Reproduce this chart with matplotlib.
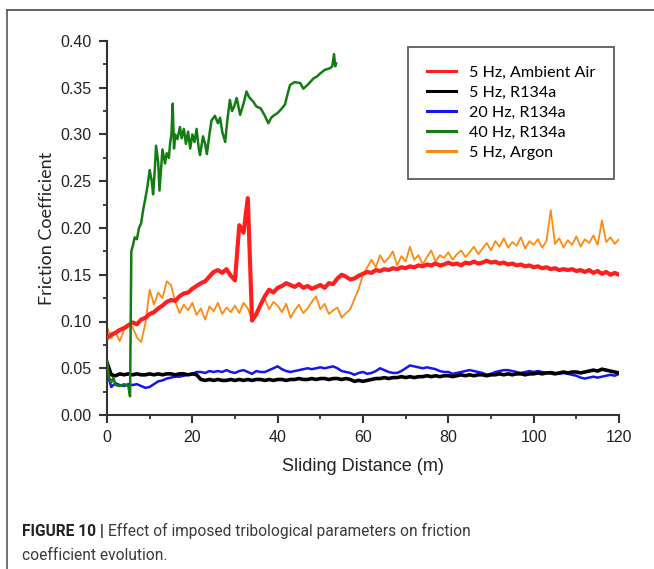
import numpy as np
import matplotlib
matplotlib.use("Agg")
import matplotlib.pyplot as plt
from matplotlib.lines import Line2D
from matplotlib.ticker import MultipleLocator

# Sliding distance grid (m) shared by the 120 m runs
dist = np.arange(0, 121)

# 5 Hz, Ambient Air
air_5hz = [0.082, 0.086, 0.088, 0.091, 0.093, 0.096, 0.099, 0.097, 0.102, 0.104,
           0.108, 0.110, 0.114, 0.117, 0.121, 0.123, 0.122, 0.127, 0.130, 0.131,
           0.135, 0.138, 0.141, 0.143, 0.148, 0.153, 0.155, 0.152, 0.156, 0.149,
           0.144, 0.203, 0.195, 0.232, 0.101, 0.108, 0.118, 0.127, 0.134, 0.131,
           0.136, 0.138, 0.141, 0.139, 0.137, 0.140, 0.136, 0.138, 0.135, 0.137,
           0.139, 0.136, 0.141, 0.140, 0.146, 0.150, 0.148, 0.145, 0.146, 0.149,
           0.151, 0.153, 0.152, 0.155, 0.154, 0.156, 0.155, 0.157, 0.156, 0.158,
           0.157, 0.159, 0.158, 0.160, 0.159, 0.161, 0.160, 0.162, 0.160, 0.161,
           0.163, 0.161, 0.162, 0.160, 0.163, 0.162, 0.164, 0.162, 0.163, 0.165,
           0.163, 0.164, 0.162, 0.163, 0.161, 0.162, 0.160, 0.161, 0.159, 0.160,
           0.158, 0.159, 0.157, 0.158, 0.156, 0.157, 0.155, 0.156, 0.155, 0.156,
           0.154, 0.155, 0.153, 0.155, 0.152, 0.154, 0.151, 0.153, 0.150, 0.152,
           0.150]

# 5 Hz, R134a
r134a_5hz = [0.056, 0.043, 0.042, 0.044, 0.043, 0.044, 0.043, 0.044, 0.043, 0.043,
             0.044, 0.043, 0.044, 0.043, 0.044, 0.044, 0.043, 0.044, 0.044, 0.043,
             0.044, 0.043, 0.038, 0.037, 0.038, 0.037, 0.038, 0.037, 0.037, 0.038,
             0.037, 0.038, 0.037, 0.038, 0.037, 0.038, 0.038, 0.037, 0.038, 0.037,
             0.038, 0.038, 0.037, 0.038, 0.038, 0.039, 0.038, 0.038, 0.039, 0.038,
             0.039, 0.039, 0.038, 0.039, 0.039, 0.038, 0.039, 0.038, 0.036, 0.037,
             0.036, 0.037, 0.038, 0.039, 0.039, 0.040, 0.039, 0.040, 0.040, 0.041,
             0.040, 0.041, 0.040, 0.041, 0.041, 0.042, 0.041, 0.042, 0.041, 0.042,
             0.042, 0.041, 0.042, 0.043, 0.042, 0.043, 0.042, 0.043, 0.043, 0.042,
             0.043, 0.043, 0.044, 0.043, 0.044, 0.043, 0.044, 0.044, 0.043, 0.044,
             0.044, 0.045, 0.044, 0.045, 0.045, 0.044, 0.045, 0.046, 0.045, 0.046,
             0.046, 0.045, 0.046, 0.047, 0.048, 0.047, 0.049, 0.048, 0.047, 0.046,
             0.045]

# 20 Hz, R134a
r134a_20hz = [0.046, 0.030, 0.034, 0.032, 0.031, 0.033, 0.032, 0.033, 0.031, 0.029,
              0.030, 0.033, 0.036, 0.037, 0.039, 0.040, 0.041, 0.041, 0.042, 0.043,
              0.044, 0.046, 0.046, 0.045, 0.047, 0.046, 0.047, 0.046, 0.048, 0.046,
              0.045, 0.047, 0.048, 0.046, 0.044, 0.047, 0.046, 0.046, 0.048, 0.050,
              0.052, 0.049, 0.047, 0.046, 0.047, 0.048, 0.049, 0.050, 0.049, 0.050,
              0.051, 0.050, 0.051, 0.052, 0.050, 0.047, 0.046, 0.045, 0.043, 0.045,
              0.046, 0.044, 0.045, 0.047, 0.050, 0.048, 0.046, 0.045, 0.045, 0.047,
              0.050, 0.053, 0.052, 0.051, 0.050, 0.051, 0.050, 0.049, 0.047, 0.046,
              0.046, 0.044, 0.045, 0.046, 0.047, 0.048, 0.047, 0.046, 0.045, 0.043,
              0.044, 0.046, 0.047, 0.048, 0.048, 0.047, 0.046, 0.045, 0.046, 0.047,
              0.046, 0.047, 0.046, 0.045, 0.046, 0.045, 0.044, 0.045, 0.044, 0.043,
              0.042, 0.040, 0.039, 0.040, 0.041, 0.040, 0.041, 0.042, 0.043, 0.042,
              0.044]

# 40 Hz, R134a (run stops at ~54 m)
dist_40hz = [0, 0.5, 1, 1.5, 2, 3, 4, 5, 5.4, 5.7,
             6, 6.5, 7, 7.5, 8, 8.5, 9, 9.5, 10, 10.5,
             10.8, 11.2, 11.5, 12, 12.3, 12.7, 13, 13.6, 14, 14.5,
             14.8, 15.1, 15.4, 15.7, 16, 16.5, 17.1, 17.5, 18, 18.5,
             19, 19.5, 20, 20.5, 21, 21.5, 21.8, 22.5, 23, 23.4,
             24, 24.5, 25.3, 26, 26.5, 27, 27.7, 28.2, 28.8, 29.3,
             29.8, 30.4, 31.2, 32, 32.7, 33.3, 34.3, 35, 36, 37,
             37.8, 38.5, 39, 40, 41, 41.7, 42.3, 42.9, 44, 45.3,
             46, 47, 48.4, 49.2, 49.9, 51, 52.3, 52.8, 53.2, 53.5,
             53.7]
r134a_40hz = [0.058, 0.040, 0.035, 0.040, 0.032, 0.031, 0.033, 0.031, 0.020, 0.175,
              0.180, 0.190, 0.188, 0.200, 0.205, 0.220, 0.232, 0.245, 0.262, 0.250,
              0.236, 0.262, 0.288, 0.270, 0.240, 0.265, 0.284, 0.269, 0.280, 0.275,
              0.291, 0.300, 0.333, 0.285, 0.300, 0.295, 0.308, 0.296, 0.306, 0.290,
              0.303, 0.285, 0.300, 0.292, 0.306, 0.285, 0.278, 0.298, 0.290, 0.279,
              0.300, 0.315, 0.320, 0.312, 0.318, 0.303, 0.292, 0.315, 0.337, 0.325,
              0.330, 0.339, 0.321, 0.333, 0.346, 0.340, 0.335, 0.330, 0.328, 0.320,
              0.312, 0.318, 0.320, 0.323, 0.328, 0.332, 0.343, 0.353, 0.356, 0.355,
              0.349, 0.353, 0.360, 0.362, 0.365, 0.369, 0.371, 0.373, 0.386, 0.373,
              0.376]

# 5 Hz, Argon
argon_5hz = [0.094, 0.082, 0.088, 0.079, 0.091, 0.097, 0.094, 0.083, 0.078, 0.098,
             0.134, 0.118, 0.131, 0.125, 0.143, 0.139, 0.121, 0.109, 0.118, 0.112,
             0.120, 0.107, 0.114, 0.102, 0.116, 0.111, 0.120, 0.108, 0.115, 0.110,
             0.117, 0.109, 0.120, 0.114, 0.102, 0.110, 0.118, 0.124, 0.113, 0.121,
             0.117, 0.110, 0.119, 0.104, 0.112, 0.118, 0.109, 0.114, 0.121, 0.127,
             0.113, 0.119, 0.108, 0.112, 0.115, 0.104, 0.109, 0.113, 0.124, 0.135,
             0.150, 0.158, 0.166, 0.158, 0.171, 0.163, 0.168, 0.175, 0.160, 0.170,
             0.164, 0.180, 0.166, 0.171, 0.161, 0.169, 0.176, 0.164, 0.171, 0.168,
             0.174, 0.166, 0.172, 0.176, 0.169, 0.174, 0.180, 0.172, 0.178, 0.184,
             0.176, 0.186, 0.180, 0.189, 0.179, 0.185, 0.181, 0.190, 0.178, 0.186,
             0.182, 0.188, 0.179, 0.186, 0.219, 0.183, 0.189, 0.179, 0.187, 0.182,
             0.191, 0.180, 0.188, 0.184, 0.192, 0.182, 0.208, 0.185, 0.190, 0.183,
             0.188]

labels = ["5 Hz, Ambient Air", "5 Hz, R134a", "20 Hz, R134a", "40 Hz, R134a", "5 Hz, Argon"]
colors = ["#ff1f1f", "#000000", "#1515f0", "#137d13", "#ff8a10"]

W, H = 654, 569
fig = plt.figure(figsize=(W / 100, H / 100), dpi=100)

# axes box placed from pixel positions of the reference
ax = fig.add_axes([107 / W, 1 - 415 / H, 512 / W, 374 / H])

ax.plot(dist, argon_5hz, color=colors[4], lw=1.3, label=labels[4], zorder=2)
ax.plot(dist, air_5hz, color=colors[0], lw=3.0, label=labels[0], zorder=3)
ax.plot(dist, r134a_20hz, color=colors[2], lw=1.8, label=labels[2], zorder=4)
ax.plot(dist, r134a_5hz, color=colors[1], lw=2.6, label=labels[1], zorder=5)
ax.plot(dist_40hz, r134a_40hz, color=colors[3], lw=1.8, label=labels[3], zorder=6)

ax.set_xlim(0, 120)
ax.set_ylim(0, 0.40)
ax.xaxis.set_major_locator(MultipleLocator(20))
ax.xaxis.set_minor_locator(MultipleLocator(10))
ax.yaxis.set_major_locator(MultipleLocator(0.05))
ax.yaxis.set_minor_locator(MultipleLocator(0.025))
ax.yaxis.set_major_formatter(plt.FormatStrFormatter("%.2f"))

axis_col = "#333333"
for side in ["top", "right"]:
    ax.spines[side].set_visible(False)
for side in ["left", "bottom"]:
    ax.spines[side].set_color(axis_col)
    ax.spines[side].set_linewidth(1.5)

tick_font = "Liberation Sans"
ax.tick_params(which="major", direction="out", length=6, width=1.5, color=axis_col,
               labelsize=11.5, pad=5, labelcolor="#222222")
ax.tick_params(which="minor", direction="out", length=3, width=1.3, color=axis_col)
for lab in ax.get_xticklabels() + ax.get_yticklabels():
    lab.set_fontfamily(tick_font)

ax.set_xlabel("Sliding Distance (m)", fontsize=13, family=tick_font, color="#222222", labelpad=9)
ax.set_ylabel("Friction Coefficient", fontsize=13, family="Lato", color="#222222")
ax.yaxis.set_label_coords(-0.102, 0.5)

# legend in the original entry order
handles = {h.get_label(): h for h in ax.get_lines()}
leg = ax.legend([handles[l] for l in labels], labels, loc="upper left",
                bbox_to_anchor=((408 - 107) / 512, (415 - 47) / 374), borderaxespad=0,
                prop={"family": "Lato", "size": 11.6}, frameon=True, fancybox=False,
                handlelength=1.85, handletextpad=0.8, labelspacing=0.36, borderpad=1.15)
leg.get_frame().set_edgecolor("#333333")
leg.get_frame().set_linewidth(1.3)
for h in leg.get_lines():
    h.set_linewidth(2.2)

# gray frame around the figure panel (left and top edges)
fig.add_artist(Line2D([7 / W, 7 / W], [0, 1 - 10 / H], color="#666666", lw=1.3))
fig.add_artist(Line2D([7 / W, 1], [1 - 10 / H, 1 - 10 / H], color="#555555", lw=1.3))

# caption
cap_font = ["Roboto", "Liberation Sans"]
t1 = fig.text(22 / W, 1 - 536 / H, "FIGURE 10 |", fontsize=11.2, weight="bold",
              family=cap_font, va="baseline", color="#222222")
fig.text(22 / W, 1 - 560 / H, "coefficient evolution.", fontsize=11.2,
         family=cap_font, va="baseline", color="#3a3a3a")
ax.annotate("Effect of imposed tribological parameters on friction", xy=(1, 0),
            xycoords=t1, xytext=(3, 0), textcoords="offset points", va="bottom",
            fontsize=11.2, family=cap_font, color="#3a3a3a",
            annotation_clip=False)

fig.savefig("out.png", dpi=100)
